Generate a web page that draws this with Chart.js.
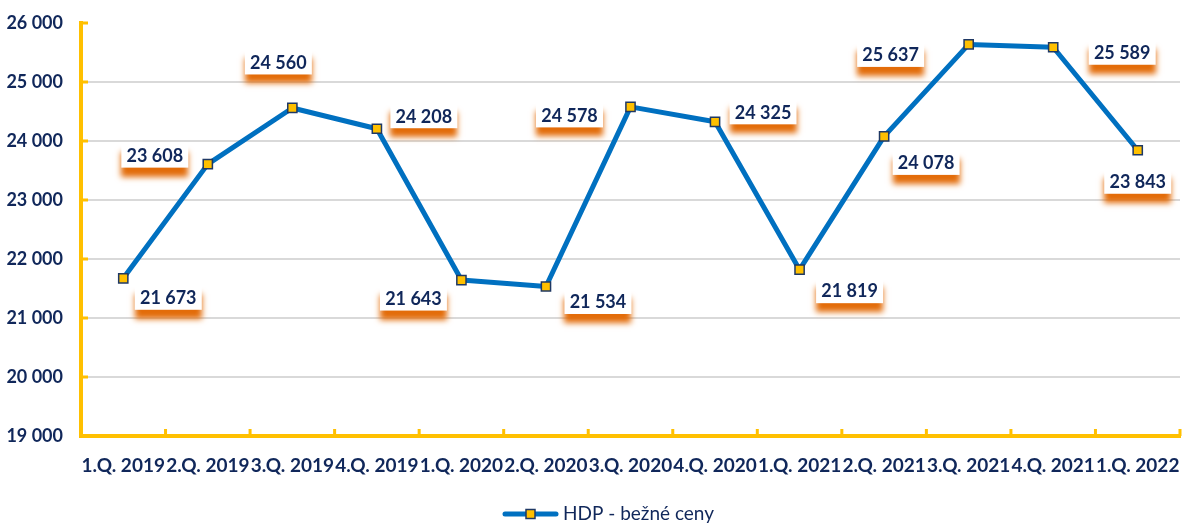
<!DOCTYPE html>
<html>
<head>
<meta charset="utf-8">
<script src="https://cdn.jsdelivr.net/npm/chart.js@4.4.0/dist/chart.umd.min.js"></script>
<style>
  html, body { margin: 0; padding: 0; background: #fff; }
  #wrap { width: 1188px; height: 525px; }
</style>
</head>
<body>
<div id="wrap"><canvas id="gdpChart"></canvas></div>
<script>
const quarters = [
  '1.Q. 2019', '2.Q. 2019', '3.Q. 2019', '4.Q. 2019',
  '1.Q. 2020', '2.Q. 2020', '3.Q. 2020', '4.Q. 2020',
  '1.Q. 2021', '2.Q. 2021', '3.Q. 2021', '4.Q. 2021',
  '1.Q. 2022'
];
const gdpValues = [21673, 23608, 24560, 24208, 21643, 21534, 24578, 24325, 21819, 24078, 25637, 25589, 23843];
const seriesName = 'HDP - bežné ceny';
const yMin = 19000;
const yMax = 26000;
const yStep = 1000;

// where each value box sits relative to its point (px)
const labelOffsets = [
  [45, 19], [-53, -9], [-14, -46], [47, -13], [-48, 18], [52, 15], [-61, 8],
  [48, -10], [50, 21], [42, 26], [-78, 10], [69, 5], [0, 31]
];

const NAVY = '#10275a';
const YELLOW = '#ffc000';
const BLUE = '#0070c0';
const ORANGE = '#e36c09';

function fmt(v) {
  return String(v).replace(/\B(?=(\d{3})+(?!\d))/g, ' ');
}

// small yellow tick marks pointing into the plot
const axisTicks = {
  id: 'axisTicks',
  beforeDatasetsDraw(chart) {
    const { ctx, chartArea: a, scales: { x, y } } = chart;
    ctx.save();
    ctx.strokeStyle = YELLOW;
    ctx.lineWidth = 3;
    ctx.beginPath();
    y.ticks.forEach(t => {
      const py = y.getPixelForValue(t.value);
      ctx.moveTo(a.left, py);
      ctx.lineTo(a.left + 7, py);
    });
    const n = x.ticks.length;
    for (let i = 1; i <= n; i++) {
      const px = a.left + (a.right - a.left) * i / n;
      ctx.moveTo(px, a.bottom);
      ctx.lineTo(px, a.bottom - 7);
    }
    ctx.stroke();
    ctx.restore();
  }
};

// white value boxes with orange shadow
const valueBoxes = {
  id: 'valueBoxes',
  afterDatasetsDraw(chart) {
    const { ctx } = chart;
    const meta = chart.getDatasetMeta(0);
    ctx.save();
    ctx.font = 'bold 18px Lato';
    ctx.textAlign = 'center';
    ctx.textBaseline = 'middle';
    meta.data.forEach((pt, i) => {
      const [dx, dy] = labelOffsets[i];
      const cx = pt.x + dx, cy = pt.y + dy;
      const w = 67, h = 25;
      ctx.save();
      ctx.shadowColor = ORANGE;
      ctx.shadowBlur = 6;
      ctx.shadowOffsetY = 9;
      ctx.fillStyle = '#fff';
      ctx.fillRect(cx - w / 2, cy - h / 2, w, h);
      ctx.restore();
      ctx.fillStyle = NAVY;
      ctx.fillText(fmt(gdpValues[i]), cx, cy + 1);
    });
    ctx.restore();
  }
};

// legend: line with square marker + text
const bottomLegend = {
  id: 'bottomLegend',
  afterDraw(chart) {
    const { ctx } = chart;
    const y = 514;
    ctx.save();
    ctx.strokeStyle = BLUE;
    ctx.lineWidth = 5;
    ctx.lineCap = 'round';
    ctx.beginPath();
    ctx.moveTo(505, y);
    ctx.lineTo(556, y);
    ctx.stroke();
    ctx.fillStyle = YELLOW;
    ctx.strokeStyle = '#1f3864';
    ctx.lineWidth = 1.5;
    ctx.fillRect(526, y - 4.5, 9, 9);
    ctx.strokeRect(526, y - 4.5, 9, 9);
    ctx.fillStyle = NAVY;
    ctx.font = '19px Lato';
    ctx.textAlign = 'left';
    ctx.textBaseline = 'middle';
    ctx.fillText(seriesName, 563, y);
    ctx.restore();
  }
};

new Chart(document.getElementById('gdpChart'), {
  type: 'line',
  data: {
    labels: quarters,
    datasets: [{
      label: seriesName,
      data: gdpValues,
      borderColor: BLUE,
      borderWidth: 5,
      borderJoinStyle: 'round',
      tension: 0,
      fill: false,
      pointStyle: 'rect',
      pointRadius: 6.5,
      pointBackgroundColor: YELLOW,
      pointBorderColor: '#1f3864',
      pointBorderWidth: 1.5
    }]
  },
  options: {
    responsive: true,
    maintainAspectRatio: false,
    animation: false,
    layout: { padding: { top: 23, right: 1, bottom: 44, left: 0 } },
    plugins: {
      legend: { display: false },
      tooltip: { enabled: false }
    },
    scales: {
      x: {
        offset: true,
        grid: { display: false, drawTicks: false },
        border: { color: YELLOW, width: 4 },
        ticks: {
          autoSkip: false, maxRotation: 0, minRotation: 0, padding: 18,
          color: NAVY, font: { family: 'Lato', size: 19, weight: 'bold' }
        },
        afterFit: s => { s.height = 45; s.paddingLeft = 0; s.paddingRight = 0; }
      },
      y: {
        min: yMin,
        max: yMax,
        grid: {
          color: c => (c.tick.value === yMin || c.tick.value === yMax) ? 'rgba(0,0,0,0)' : '#d9d9d9',
          lineWidth: 2,
          drawTicks: false
        },
        border: { color: YELLOW, width: 4 },
        ticks: {
          stepSize: yStep, padding: 18, callback: v => fmt(v),
          color: NAVY, font: { family: 'Lato', size: 18, weight: 'bold' }
        },
        afterFit: s => { s.width = 81; s.paddingTop = 0; s.paddingBottom = 0; }
      }
    }
  },
  plugins: [axisTicks, valueBoxes, bottomLegend]
});
</script>
</body>
</html>
